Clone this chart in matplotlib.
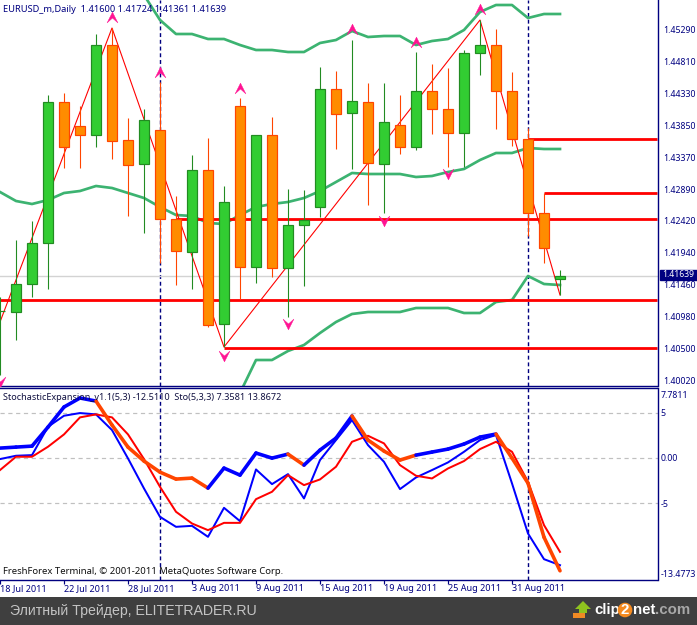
import numpy as np
import matplotlib
matplotlib.use("Agg")
import matplotlib.pyplot as plt
from matplotlib.patches import Rectangle, Polygon
from matplotlib.path import Path
from matplotlib.transforms import ScaledTranslation

opens = [1.41115,1.4110,1.4152,1.42135,1.4425,1.4389,1.43755,1.45105,1.4368,1.4332,1.4383,1.42495,1.4200,1.4323,1.4092,1.4419,1.41775,1.43755,1.4176,1.42405,1.42675,1.44445,1.44085,1.4425,1.4332,1.43905,1.43575,1.44415,1.44145,1.43785,1.44985,1.45105,1.44415,1.43695,1.42585,1.41600]
highs = [1.41325,1.4218,1.42465,1.4435,1.44385,1.4419,1.4527,1.4536,1.4401,1.44145,1.4455,1.4284,1.43455,1.4371,1.4299,1.4431,1.43755,1.44025,1.42945,1.4293,1.44775,1.44715,1.4518,1.44535,1.44535,1.44355,1.4500,1.4482,1.4476,1.4503,1.4548,1.4534,1.4470,1.4386,1.42885,1.41724]
lows = [1.40155,1.4068,1.41325,1.41445,1.4326,1.4326,1.43575,1.43395,1.4254,1.42285,1.41835,1.41505,1.41445,1.40875,1.40575,1.41295,1.41535,1.41625,1.41025,1.4149,1.42525,1.43545,1.43245,1.42705,1.42585,1.4347,1.4353,1.4377,1.43275,1.43275,1.44655,1.43845,1.4359,1.4224,1.41835,1.41361]
closes = [1.41115,1.4152,1.42135,1.4425,1.43575,1.4376,1.45105,1.43665,1.43305,1.4398,1.42495,1.42015,1.4323,1.40905,1.4275,1.41775,1.43755,1.4176,1.42405,1.4248,1.44445,1.4407,1.44265,1.43335,1.4395,1.43575,1.44415,1.44145,1.43785,1.44985,1.45105,1.44415,1.43695,1.42585,1.42060,1.41639]

band_upper_idx = list(range(9, 36))
band_upper = [1.45855,1.4548,1.4527,1.4527,1.45195,1.45195,1.45105,1.4503,1.4503,1.4500,1.4500,1.45135,1.4518,1.45315,1.45225,1.4524,1.4524,1.45105,1.45165,1.45195,1.4533,1.4560,1.45705,1.45705,1.4551,1.4557,1.4557]
band_mid = [1.4290,1.42765,1.4272,1.4278,1.42885,1.42915,1.4299,1.4296,1.42885,1.4281,1.42675,1.42555,1.4254,1.42435,1.4242,1.42555,1.42675,1.4272,1.4275,1.4281,1.42915,1.4305,1.43185,1.4317,1.4317,1.4317,1.43125,1.4314,1.4320,1.43245,1.4338,1.43485,1.43485,1.4356,1.43545,1.43545]
band_lower_idx = list(range(15, 36))
band_lower = [1.39885,1.4038,1.4038,1.40515,1.40605,1.40785,1.4095,1.4107,1.4110,1.4110,1.4110,1.4116,1.4116,1.4116,1.41085,1.41085,1.4125,1.4128,1.4164,1.4152,1.41505]

zigzag_idx = [0, 7, 14, 30, 35]
zigzag_val = [1.4095, 1.4536, 1.40575, 1.4548, 1.41355]
frac_up_idx = [7, 10, 15, 22, 26, 30]
frac_up_val = [1.45525, 1.4470, 1.4446, 1.45345, 1.4515, 1.45645]
frac_dn_idx = [0, 14, 18, 24, 28]
frac_dn_val = [1.4005, 1.4044, 1.4092, 1.42465, 1.4317]

level_start = [0, 11, 14, 33, 34]
level_val = [1.4128, 1.42495, 1.40565, 1.43695, 1.42885]
sep_idx = [10, 33]

expansion = [1.11,1.22,1.33,3.44,5.67,6.67,6.33,3.67,1.22,-0.33,-1.56,-2.33,-2.22,-3.33,-1.11,-1.89,0.56,0.0,0.44,-0.78,0.89,2.22,4.67,2.0,0.78,-0.22,0.33,0.67,1.0,1.56,2.33,2.67,0.0,-2.78,-8.78,-12.51]
expansion_flag = list("bbbbbb" "ooooooo" "bbbbb" "o" "bbb" "oooo" "bbbbb" "oooo")
sto_main = [-0.11,0.26,0.33,3.48,4.7,5.0,4.85,3.11,-0.04,-3.37,-6.52,-7.63,-7.52,-8.74,-5.52,-7.0,-1.26,-2.89,-1.78,-4.48,-0.22,2.0,4.22,1.44,-0.41,-3.44,-2.15,-1.33,-0.48,0.7,2.0,2.56,-2.81,-8.37,-11.22,-11.89]
sto_signal = [-1.33,0.15,0.15,1.26,2.63,4.52,4.85,4.52,2.63,-0.11,-3.19,-5.96,-7.26,-8.0,-7.19,-7.19,-4.56,-3.74,-1.89,-3.0,-2.37,-0.96,1.81,2.48,1.63,-0.78,-1.96,-2.26,-1.15,-0.33,1.0,1.81,0.7,-2.63,-7.44,-10.41]

price_ticks = [1.4529,1.4481,1.4433,1.4385,1.4337,1.4289,1.4242,1.4194,1.4146,1.4098,1.4050,1.4002]
sub_ticks = [7.7811, 5, 0, -5, -13.4773]
sub_tick_labels = ["7.7811", "5", "0.00", "-5", "-13.4773"]
date_idx = [0, 4, 8, 12, 16, 20, 24, 28, 32]
date_labels = ["18 Jul 2011","22 Jul 2011","28 Jul 2011","3 Aug 2011","9 Aug 2011","15 Aug 2011","19 Aug 2011","25 Aug 2011","31 Aug 2011"]
last_price = 1.41639

W, H = 697, 625
NAVY = "#000080"
FS = 6.85
FS_AXIS = 6.3
plt.rcParams['font.family'] = ['Noto Sans', 'DejaVu Sans']
fig = plt.figure(figsize=(W/100, H/100), dpi=100, facecolor="white")
def box(l, t, r, b):
    return [l/W, 1-b/H, (r-l)/W, (b-t)/H]
ax = fig.add_axes(box(0, 0, 657.5, 385.5))
ax2 = fig.add_axes(box(0, 388, 657.5, 579.5))
xlim = (0, 657.5/16)
ax.set_xlim(xlim); ax2.set_xlim(xlim)
ax.set_ylim(1.4002+(384-385.5)*0.00015, 1.4002+384*0.00015)
ax2.set_ylim(-13.4773, 7.7811)
px = 72/100

for a in (ax, ax2):
    a.set_facecolor("white")
    for s in a.spines.values():
        s.set_color(NAVY); s.set_linewidth(1.4*px)
    a.spines['left'].set_visible(False)
ax.spines['top'].set_visible(False)

# background elements of price pane
for i in sep_idx:
    ax.axvline(i, color=NAVY, lw=1.4*px, dashes=(2.8, 2.0), zorder=1)
    ax2.axvline(i, color=NAVY, lw=1.4*px, dashes=(2.8, 2.0), zorder=1)
ax.axhline(last_price, color="#d3d3d3", lw=1.4*px, zorder=1)
teal = "#3cb371"
ax.plot(band_upper_idx, band_upper, color=teal, lw=2.7*px, zorder=2)
ax.plot(range(36), band_mid, color=teal, lw=2.7*px, zorder=2)
ax.plot(band_lower_idx, band_lower, color=teal, lw=2.7*px, zorder=2)
ax.plot(zigzag_idx, zigzag_val, color="#ff0000", lw=1.1*px, zorder=2)
for s, v in zip(level_start, level_val):
    ax.plot([s, xlim[1]], [v, v], color="#ff0000", lw=2.8*px, zorder=2, solid_capstyle='butt')

# candles
bw = 10/16
for i, (o, h, l, c) in enumerate(zip(opens, highs, lows, closes)):
    up = c >= o
    edge = "#228b22" if up else "#ff4500"
    fill = "#32cd32" if up else "#ff8c00"
    ax.plot([i, i], [l, h], color=edge, lw=1.1*px, zorder=3, solid_capstyle='butt')
    ax.add_patch(Rectangle((i-bw/2, min(o, c)), bw, abs(c-o), facecolor=fill, edgecolor=edge, lw=1.2*px, zorder=4))

# fractal arrows
up_path = Path([(0, 1), (-1, -1), (0, -0.1), (1, -1), (0, 1)], closed=True)
dn_path = Path([(0, -1), (-1, 1), (0, 0.1), (1, 1), (0, -1)], closed=True)
ax.scatter(frac_up_idx, frac_up_val, marker=up_path, s=60, facecolor="#ff1493", edgecolor="#ff1493", lw=0.3, zorder=5)
ax.scatter(frac_dn_idx, frac_dn_val, marker=dn_path, s=60, facecolor="#ff1493", edgecolor="#ff1493", lw=0.3, zorder=5)

# price axis
ax.set_xticks([])
ax.yaxis.tick_right()
ax.set_yticks(price_ticks)
ax.set_yticklabels([f"{v:.5f}" for v in price_ticks], color=NAVY, fontsize=FS_AXIS)
ax.tick_params(axis='y', length=0, pad=4)
for lb in ax.get_yticklabels():
    lb.set_transform(lb.get_transform() + ScaledTranslation(0, 3.5/72*px, fig.dpi_scale_trans))
fig.text(3/W, 1-9/H, "EURUSD_m,Daily  1.41600 1.41724 1.41361 1.41639", color=NAVY, fontsize=6.7, va='center', ha='left', zorder=10)
fig.add_artist(Rectangle((660/W, 1-280/H), 37/W, 10/H, transform=fig.transFigure, facecolor=NAVY, edgecolor=NAVY, zorder=9))
fig.text(678.5/W, 1-275/H, "1.41639", color="white", fontsize=6.2, fontweight='bold', va='center', ha='center', zorder=11)

# indicator pane
for v in [5, 0, -5]:
    ax2.axhline(v, color="#c0c0c0", lw=1.2*px, dashes=(3.5, 3), zorder=1)
ax2.plot(range(36), sto_main, color="#0000ff", lw=2.0*px, zorder=3)
ax2.plot(range(36), sto_signal, color="#ff0000", lw=2.0*px, zorder=3)
colmap = {"b": "#0000ff", "o": "#ff4500"}
for i, f in enumerate(expansion_flag):
    ax2.plot([i, i+1], expansion[i:i+2], color=colmap[f], lw=3.6*px, zorder=4, solid_capstyle='round')
ax2.set_xticks(date_idx)
ax2.set_xticklabels(date_labels, color=NAVY, fontsize=6.5, ha='left')
ax2.tick_params(axis='x', length=3, width=1.2*px, color=NAVY, pad=0)
ax2.yaxis.tick_right()
ax2.set_yticks(sub_ticks)
ax2.set_yticklabels(sub_tick_labels, color=NAVY, fontsize=FS_AXIS)
ax2.tick_params(axis='y', length=0, pad=2)
for lb, off in zip(ax2.get_yticklabels(), [-6, 1, 1, 0, 6]):
    lb.set_transform(lb.get_transform() + ScaledTranslation(0, off/72*px, fig.dpi_scale_trans))
fig.text(3/W, 1-397/H, "StochasticExpansion_v1.1(5,3) -12.5110  Sto(5,3,3) 7.3581 13.8672", color="#101040", fontsize=6.55, va='center', zorder=10)
fig.text(3/W, 1-571.5/H, "FreshForex Terminal, © 2001-2011 MetaQuotes Software Corp.", color="#101010", fontsize=FS, va='center', zorder=10)

# bottom band
fig.add_artist(Rectangle((0, 0), 1, 28/H, transform=fig.transFigure, facecolor="#3f3f3f", edgecolor="none", zorder=5))
fig.text(10/W, 1-611/H, "Элитный Трейдер, ELITETRADER.RU", color="#c4c4c4", fontsize=10.2, va='center', zorder=6,
         family=['Liberation Sans', 'DejaVu Sans'])
LOGO = 10.8
fig.text(594/W, 1-610/H, "clip", color="white", fontsize=LOGO, fontweight='bold', va='center', ha='left', zorder=6, family=['Liberation Sans'])
fig.text(625/W, 1-610/H, "2", color="white", fontsize=LOGO, fontweight='bold', va='center', ha='center', zorder=7, family=['Liberation Sans'],
         bbox=dict(boxstyle="circle,pad=0.02", fc="#f58a1f", ec="none"))
fig.text(632.5/W, 1-610/H, "net", color="white", fontsize=LOGO, fontweight='bold', va='center', ha='left', zorder=8, family=['Liberation Sans'])
fig.text(654.5/W, 1-610/H, ".com", color="#a8a8a8", fontsize=LOGO, fontweight='bold', va='center', ha='left', zorder=6, family=['Liberation Sans'])
fig.add_artist(Polygon([(x/W, 1-y/H) for x, y in [(583,601),(575,609),(579,609),(579,613),(587,613),(587,609),(591,609)]], closed=True,
                       transform=fig.transFigure, facecolor="#8fc31f", edgecolor="none", zorder=6))
fig.add_artist(Rectangle((573/W, 1-618/H), 12/W, 5/H, transform=fig.transFigure, facecolor="#f08a24", edgecolor="none", zorder=6))

fig.savefig("out.png", dpi=100, facecolor="white")
